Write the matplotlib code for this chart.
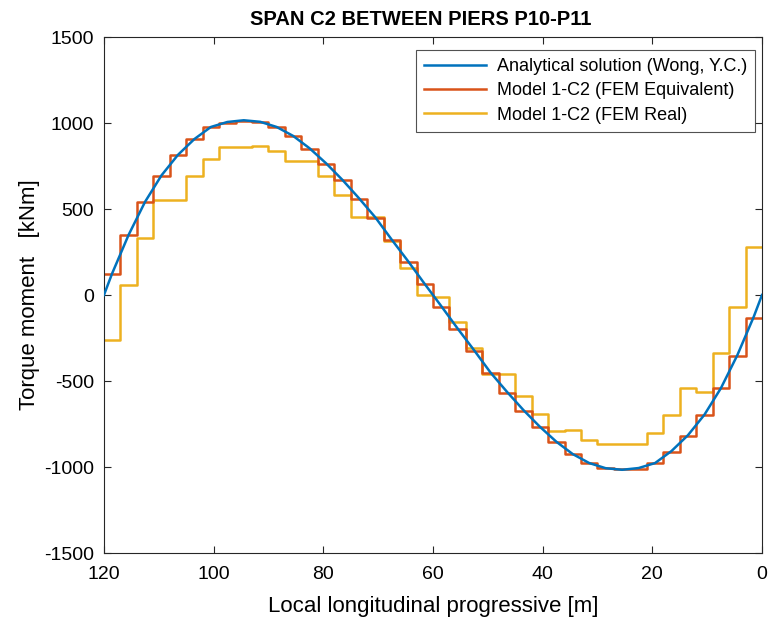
import matplotlib
matplotlib.use('Agg')
import matplotlib.pyplot as plt

plt.rcParams['font.family'] = ['Liberation Sans', 'DejaVu Sans']
plt.rcParams['axes.unicode_minus'] = False

# segment start positions (m), 3 m steps going from 120 down to 0
seg_x = [120, 117, 114, 111, 108, 105, 102, 99, 96, 93, 90, 87, 84, 81, 78, 75,
         72, 69, 66, 63, 60, 57, 54, 51, 48, 45, 42, 39, 36, 33, 30, 27, 24, 21,
         18, 15, 12, 9, 6, 3, 0]

# Model 1-C2 (FEM Equivalent)
fem_equiv = [124, 348, 540, 694, 813, 905, 975, 1002, 1014, 1004, 975, 923, 851,
             764, 667, 561, 449, 319, 193, 62, -70, -199, -325, -454, -571, -677,
             -770, -857, -925, -977, -1006, -1014, -1010, -975, -913, -822, -700,
             -543, -356, -131]

# Model 1-C2 (FEM Real)
fem_real = [-261, 60, 331, 553, 553, 690, 791, 859, 859, 865, 836, 782, 782, 690,
            582, 452, 452, 313, 158, -2, -10, -157, -306, -460, -460, -586, -689,
            -789, -784, -842, -867, -865, -865, -805, -696, -543, -561, -338, -68,
            280]

# Analytical solution (Wong, Y.C.)
ana_x = [120, 118.5, 115.5, 112.5, 109.5, 106.5, 103.5, 100.5, 97.5, 94.5, 91.5,
         88.5, 85.5, 82.5, 79.5, 76.5, 73.5, 70.5, 67.5, 64.5, 61.5, 60, 58.5, 55.5,
         52.5, 49.5, 46.5, 43.5, 40.5, 37.5, 34.5, 31.5, 28.5, 25.5, 22.5, 19.5,
         16.5, 13.5, 10.5, 7.5, 4.5, 1.5, 0]
ana_y = [0, 126, 350, 542, 696, 815, 907, 977, 1006, 1016, 1007, 977, 925, 853,
         766, 669, 563, 451, 321, 195, 64, 0, -64, -195, -321, -451, -563, -669,
         -766, -853, -925, -977, -1007, -1016, -1006, -977, -907, -815, -696, -542,
         -350, -126, 0]

fig = plt.figure(figsize=(7.7, 6.17), dpi=100)
ax = fig.add_axes([0.135, 0.1037, 0.8546, 0.8363])

ax.plot(ana_x, ana_y, color='#0072BD', lw=1.8, label='Analytical solution (Wong, Y.C.)', zorder=3)
ax.step(seg_x, fem_equiv + [fem_equiv[-1]], where='post', color='#D95319', lw=1.8,
        label='Model 1-C2 (FEM Equivalent)', zorder=2)
ax.step(seg_x, fem_real + [fem_real[-1]], where='post', color='#EDB120', lw=1.8,
        label='Model 1-C2 (FEM Real)', zorder=1)

ax.set_xlim(120, 0)
ax.set_ylim(-1500, 1500)
ax.set_xticks([120, 100, 80, 60, 40, 20, 0])
ax.set_yticks([-1500, -1000, -500, 0, 500, 1000, 1500])

for s in ax.spines.values():
    s.set_color('#262626')
    s.set_linewidth(0.8)
ax.tick_params(direction='in', top=True, right=True, length=5, width=0.8,
               colors='#262626', labelsize=14, labelcolor='black', pad=7)
ax.tick_params(axis='x', pad=9)

ax.set_title('SPAN C2 BETWEEN PIERS P10-P11', fontsize=14.5, fontweight='bold',
             pad=9, x=0.482)
ax.set_xlabel('Local longitudinal progressive [m]', fontsize=16, labelpad=10)
ax.set_ylabel('Torque moment   [kNm]', fontsize=16, labelpad=3)

leg = ax.legend(loc='upper right', bbox_to_anchor=(0.9894, 0.9748), borderaxespad=0,
                fontsize=13, frameon=True, fancybox=False, handlelength=3.4,
                borderpad=0.45, labelspacing=0.4, handletextpad=0.6)
leg.get_frame().set_edgecolor('#262626')
leg.get_frame().set_linewidth(0.8)

fig.savefig('out.png', dpi=100)
